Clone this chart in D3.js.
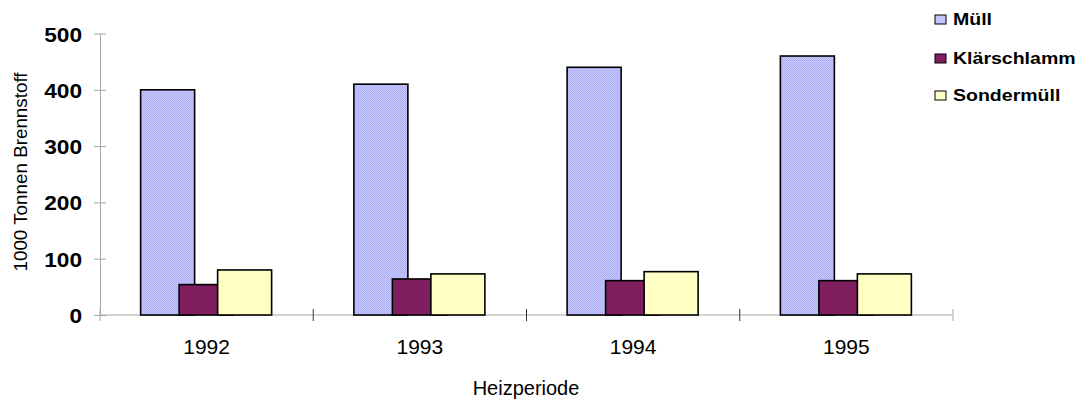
<!DOCTYPE html>
<html>
<head>
<meta charset="utf-8">
<script src="https://cdn.jsdelivr.net/npm/d3@7"></script>
<style>
  body { margin: 0; background: #fff; }
  svg { display: block; font-family: "Liberation Sans", Arial, sans-serif; }
</style>
</head>
<body>
<svg id="chart" width="1082" height="401"></svg>
<script>
const years = ["1992", "1993", "1994", "1995"];
const series = ["Müll", "Klärschlamm", "Sondermüll"];
const muell = [400, 410, 440, 460];
const klaerschlamm = [54, 64, 61, 61];
const sondermuell = [80, 73, 77, 73];
const yTicks = [0, 100, 200, 300, 400, 500];

const values = [muell, klaerschlamm, sondermuell];
const fills = ["url(#muell-pattern)", "#801f60", "#ffffc4"];
const legendFills = ["#c4c4ff", "#801f60", "#ffffc4"];

const svg = d3.select("#chart");
const axisColor = "#a6a6a6";

// stretch a text horizontally, the reference is wider than it is tall
const stretch = (sel, k) =>
  sel.each(function () {
    const w = this.getComputedTextLength();
    d3.select(this).attr("textLength", w * k).attr("lengthAdjust", "spacingAndGlyphs");
  });

// dithered lavender fill for the Müll bars
const defs = svg.append("defs");
const pat = defs.append("pattern")
  .attr("id", "muell-pattern")
  .attr("patternUnits", "userSpaceOnUse")
  .attr("width", 2).attr("height", 2);
pat.append("rect").attr("width", 2).attr("height", 2).attr("fill", "#c6c6ff");
pat.append("rect").attr("width", 1).attr("height", 1).attr("fill", "#adadf2");
pat.append("rect").attr("x", 1).attr("y", 1).attr("width", 1).attr("height", 1).attr("fill", "#b4b4f6");

const x = d3.scaleBand().domain(years).range([100, 953]).padding(0);
const xSub = d3.scalePoint().domain(series).range([-66, 11]);
const barWidth = 54;
const y = d3.scaleLinear().domain([0, 500]).range([315, 33.5]);

// y axis
const yAxis = svg.append("g")
  .attr("class", "y-axis")
  .attr("transform", "translate(100,0)")
  .call(d3.axisLeft(y).tickValues(yTicks).tickSizeInner(6).tickSizeOuter(0).tickPadding(12));
yAxis.select(".domain").attr("stroke", axisColor);
yAxis.selectAll(".tick line").attr("stroke", axisColor).attr("x1", 6).attr("x2", -6);
yAxis.selectAll(".tick text")
  .attr("font-size", 21)
  .attr("font-weight", 700)
  .attr("font-family", "Liberation Sans, Arial, sans-serif")
  .attr("fill", "#000")
  .attr("dy", "0.36em")
  .call(stretch, 1.08);

// x axis
const xAxis = svg.append("g").attr("class", "x-axis");
xAxis.append("line")
  .attr("x1", 100).attr("x2", 953)
  .attr("y1", y(0)).attr("y2", y(0))
  .attr("stroke", axisColor);
const bounds = years.map((d) => x(d)).concat([x(years[years.length - 1]) + x.bandwidth()]);
xAxis.selectAll(".x-tick")
  .data(bounds)
  .join("line")
  .attr("class", "x-tick")
  .attr("x1", (d) => d).attr("x2", (d) => d)
  .attr("y1", y(0) - 6).attr("y2", y(0) + 6)
  .attr("stroke", (d, i) => (i === 0 || i === bounds.length - 1 ? axisColor : "#333"));
xAxis.selectAll(".x-label")
  .data(years)
  .join("text")
  .attr("class", "x-label")
  .attr("x", (d) => x(d) + x.bandwidth() / 2)
  .attr("y", 354)
  .attr("text-anchor", "middle")
  .attr("font-size", 21)
  .text((d) => d);

// bars, drawn series by series so later ones sit on top
series.forEach((s, si) => {
  svg.append("g")
    .attr("class", "series-" + si)
    .selectAll("rect")
    .data(years.map((yr, i) => ({ year: yr, value: values[si][i] })))
    .join("rect")
    .attr("x", (d) => x(d.year) + x.bandwidth() / 2 + xSub(s))
    .attr("y", (d) => y(d.value))
    .attr("width", barWidth)
    .attr("height", (d) => y(0) - y(d.value))
    .attr("fill", fills[si])
    .attr("stroke", "#000")
    .attr("stroke-width", 1.6);
});

// axis titles
svg.append("text")
  .attr("x", 526)
  .attr("y", 395)
  .attr("text-anchor", "middle")
  .attr("font-size", 20)
  .text("Heizperiode");

svg.append("text")
  .attr("transform", "translate(27,172) rotate(-90)")
  .attr("text-anchor", "middle")
  .attr("font-size", 19)
  .attr("textLength", 199)
  .attr("lengthAdjust", "spacingAndGlyphs")
  .text("1000 Tonnen Brennstoff");

// legend
const legendY = [25, 64, 101];
const legend = svg.append("g").attr("class", "legend");
const items = legend.selectAll("g")
  .data(series)
  .join("g")
  .attr("transform", (d, i) => `translate(935,${legendY[i]})`);
items.append("rect")
  .attr("x", 0).attr("y", -10)
  .attr("width", 11).attr("height", 9)
  .attr("fill", (d, i) => legendFills[i])
  .attr("stroke", "#000")
  .attr("stroke-width", 1);
items.append("text")
  .attr("x", 18)
  .attr("y", 0)
  .attr("font-size", 16)
  .attr("font-weight", 700)
  .text((d) => d)
  .call(stretch, 1.22);
</script>
</body>
</html>
